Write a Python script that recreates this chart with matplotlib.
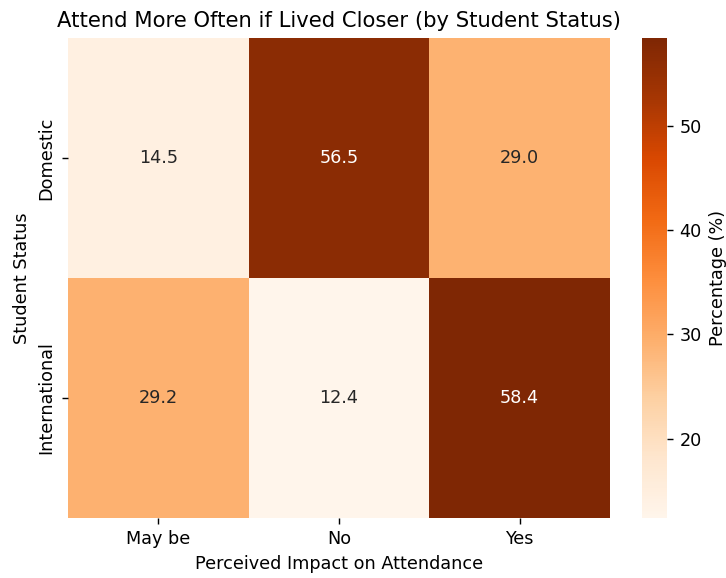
import numpy as np
import pandas as pd
import seaborn as sns
from matplotlib import pyplot as plt

# values
statuses = ["Domestic", "International"]
responses = ["May be", "No", "Yes"]
domestic = [14.5, 56.5, 29.0]
international = [29.2, 12.4, 58.4]

table = pd.DataFrame([domestic, international], index=statuses, columns=responses)

# reference looks like a ~1.27x upscaled default figure
fig = plt.figure(figsize=(726 / 127, 578 / 127), dpi=127)
ax = fig.add_axes([68 / 726, 60 / 578, 542 / 726, 480 / 578])
cax = fig.add_axes([642 / 726, 60 / 578, 25 / 726, 480 / 578])
sns.heatmap(table, annot=True, fmt=".1f", cmap="Oranges", ax=ax, cbar_ax=cax,
            cbar_kws={"label": "Percentage (%)"})
ax.set_title("Attend More Often if Lived Closer (by Student Status)")
ax.set_xlabel("Perceived Impact on Attendance")
ax.set_ylabel("Student Status")
fig.savefig("out.png", dpi=127)
